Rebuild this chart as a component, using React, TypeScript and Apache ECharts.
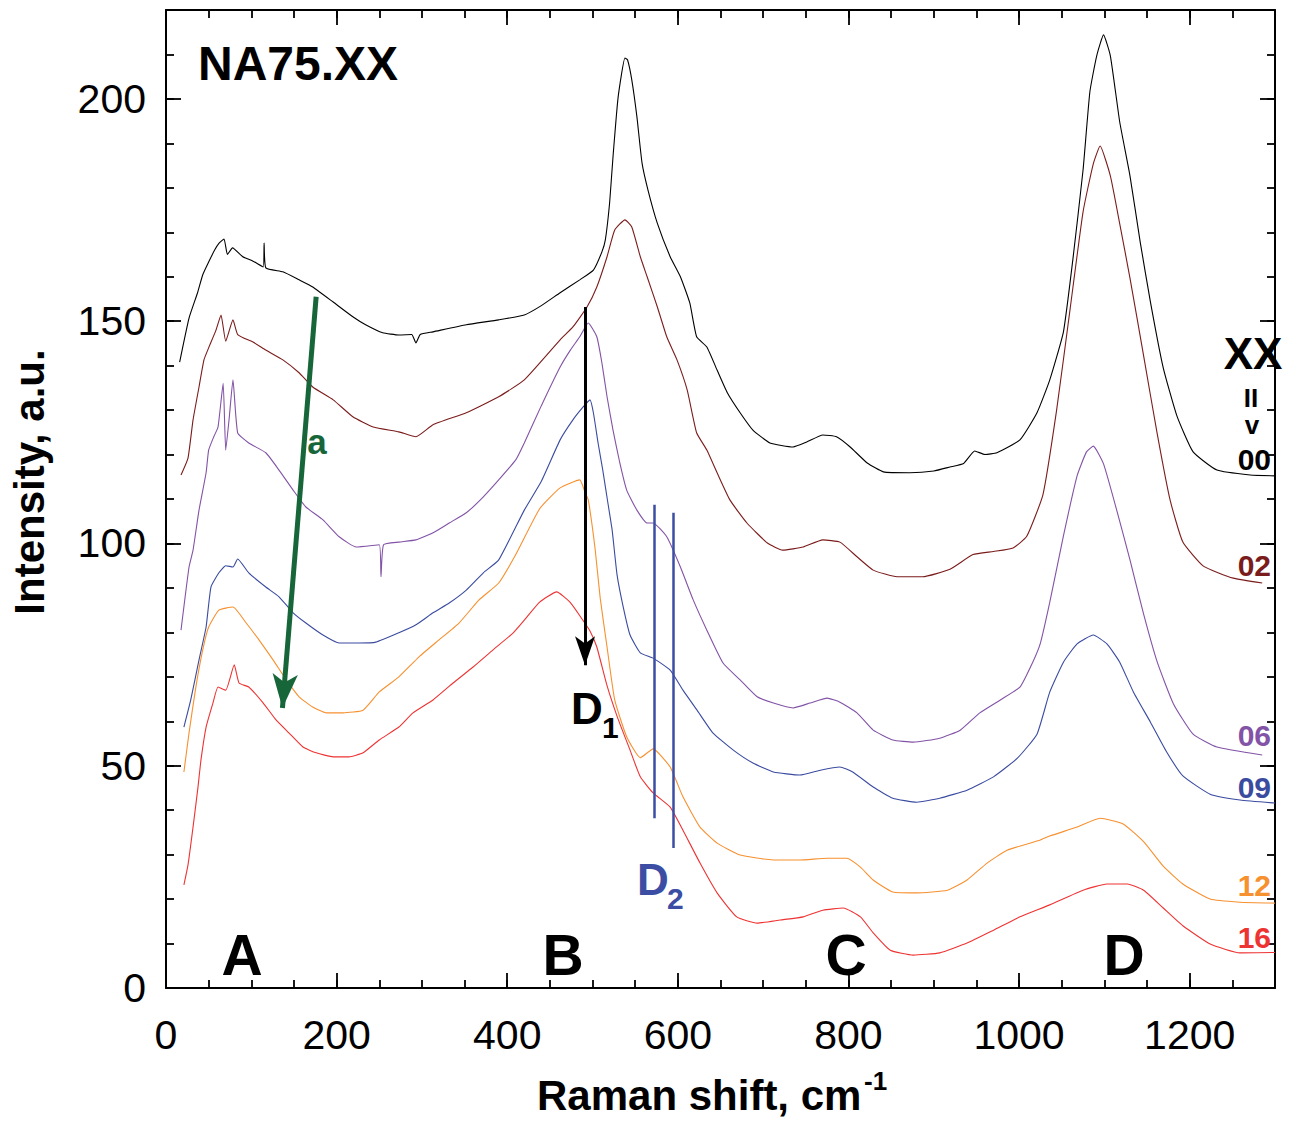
import React, { useEffect, useRef } from "react";
import * as echarts from "echarts";

// ---- data: [Raman shift (cm-1), intensity (a.u.)] ----
const s00: number[][] = [[16,140.8],[27,150.7],[37,156.4],[43,160.4],[50,163.3],[57,166],[62,167.5],[68,168.5],[72,165],[78,166.5],[90,164.5],[102,163.5],[114,162.2],[115,167.6],[117,162],[137,161.1],[156,159.3],[172,157.7],[196,154.3],[219,151],[234,149.2],[254,147.4],[273,146.9],[288,147],[293,145.1],[298,147],[313,147.6],[352,149.2],[390,150.3],[420,151.4],[440,153.5],[462,156.4],[485,159.3],[501,161.5],[511,165.6],[515,168.3],[520,176.6],[524,187],[530,200.4],[538,209.2],[541,208.8],[546,204.3],[552,196],[558,185.6],[565,179.5],[576,172],[591,164.5],[603,160],[614,154.1],[622,146.5],[634,144.2],[646,139],[658,133.9],[673,129.4],[688,125.5],[708,122.6],[735,121.7],[751,122.8],[770,124.4],[786,124],[802,121.7],[822,118.1],[841,116.1],[872,115.9],[900,116.3],[919,117.2],[935,118],[948,120.8],[960,120],[974,120.4],[1001,123.3],[1021,129.4],[1036,136.8],[1052,147.6],[1063,163.8],[1075,184],[1083,201.6],[1091,209.7],[1099,214.4],[1107,209.7],[1118,194.8],[1130,182.7],[1142,167.8],[1154,154.3],[1169,139.5],[1185,128.7],[1204,120.6],[1232,116.5],[1271,115.4],[1300,115.2]];
const s02: number[][] = [[17.6,115.4],[25.8,119.2],[31.7,127.8],[38.7,135.2],[44.5,141.3],[50,144],[58.6,148],[64.5,151.4],[70,145.5],[78.5,150.3],[84,147],[102,145.3],[117,143.5],[137,141.3],[156,138.4],[172,135.2],[196,132.3],[219,128.5],[243,126.2],[273,125.1],[293,124],[313,126.7],[352,129.4],[390,133],[420,136.8],[462,145.8],[477,148.7],[493.5,153.2],[505,157.7],[517,164.5],[526,170.5],[538,172.8],[546,171.2],[556,164.5],[564,160],[576,153.2],[587,146.5],[599,141.3],[611,134.5],[622,124.9],[634,121],[646,115.9],[661,109.8],[681,104.6],[705,100.1],[723,98.5],[747,99.2],[770,100.8],[790,100.3],[810,97],[829,94],[857,92.5],[887,92.5],[919,94.2],[946,97.5],[970,98.2],[993,99],[1009,101.6],[1028,111],[1044,130],[1060,153],[1075,174.6],[1087,185.4],[1095,189.4],[1107,182.7],[1118,171.9],[1130,159.7],[1146,142.2],[1162,124.6],[1177,109.8],[1192,100.3],[1216,94.9],[1251,92.2],[1285,91.1]];
const s06: number[][] = [[17.6,80.5],[27,94.7],[31.7,98.5],[38.7,107.5],[47,115.9],[50,121],[56,124],[61,126.2],[67,136],[70,121],[74,128],[78.5,136.8],[84,124.9],[97,122.6],[117,120.4],[132.5,116.5],[149,112],[164,108.2],[184,105.3],[203,101.5],[223,99.2],[250,99.7],[252,92.5],[255,99.7],[273,100.3],[293,100.8],[313,102.4],[332,104.6],[352,106.9],[372,110.5],[390,114.3],[410,118.8],[420,122.6],[440,131],[462,139.7],[474,143.5],[485,146.5],[495,149.6],[505,146.5],[511,140.6],[517,133],[524,125.5],[532,118.1],[540,112],[552,107.5],[564,104.6],[571,104.6],[587,101.5],[603,94.7],[618,87.3],[634,80.5],[653,73.1],[673,69.3],[693,65.5],[712,64.1],[735,63],[755,64.1],[775,65.2],[790,64.3],[810,61.9],[829,58],[852,55.8],[876,55.3],[907,56.2],[931,58],[954,61.9],[978,64.8],[1001,67.7],[1016,73.3],[1025,77.6],[1036,86.8],[1052,101.7],[1068,115.2],[1079,120.6],[1087,121.9],[1099,117.9],[1115,107.1],[1130,96.3],[1146,84.1],[1162,73.3],[1181,63.9],[1204,57.1],[1232,54.2],[1285,52.4]];
const s09: number[][] = [[21,58.7],[29,64.8],[38.7,73.8],[47,81.2],[52.7,90.2],[62,93.4],[70,95],[78.5,94.7],[84,96.5],[97,93.4],[117,90.2],[132.5,88],[149,84.4],[164,82.1],[184,79.4],[203,77.6],[226,77.6],[246,77.8],[273,79.9],[293,81.7],[313,84.4],[332,86.6],[352,89.5],[372,93.4],[390,96.3],[420,107.5],[440,114],[462,123.3],[477,127.8],[489,130.7],[497,132.3],[501,129.4],[506.5,122.6],[512,116.5],[518,109.1],[523,103],[528.7,93],[536,85.7],[544,79.4],[556,75.4],[571,74.2],[591,71.5],[606,67],[622.5,62.5],[641,57.4],[665,53.5],[688,50.6],[712,48.6],[743,47.9],[767,49],[790,49.7],[805,48.6],[829,45.2],[852,42.7],[880,41.8],[907,42.7],[939,44.5],[970,47.5],[998,51.7],[1021,57.1],[1036,66.6],[1052,73.3],[1068,77.4],[1087,79.4],[1103,77.4],[1118,73.3],[1134,66.6],[1154,59.8],[1173,53.1],[1192,47.7],[1224,43.6],[1259,42.3],[1300,41.6]];
const s12: number[][] = [[21,48.6],[27,57.4],[35,67.7],[43,76],[50,81.2],[62,85],[78.5,85.7],[94,82.1],[109,78.3],[125.5,73.8],[141,69.3],[156,65.5],[172,63.2],[187.5,61.9],[207.5,61.9],[231,62.5],[250,66.6],[273,70],[296.6,74.5],[320,78.3],[343.5,82.1],[367,87.3],[390,91.1],[410,97.5],[438,107.8],[462,112.5],[485,114.3],[491,111.6],[495,109.8],[503,98.8],[509,87.7],[517,76.7],[526,64.8],[540,56.5],[556,51.8],[571,53.8],[591,49.7],[606,43],[626,36.2],[646,32.6],[673,29.9],[712,28.8],[743,28.8],[775,29.2],[798,29.2],[814,27.2],[829,24.3],[852,21.6],[880,21.4],[916,22],[939,24.3],[962.5,28.1],[986,31],[1025,33.3],[1036,34.2],[1068,36.2],[1095,38.2],[1122,36.9],[1146,32.9],[1169,27.4],[1192,23.4],[1224,20],[1259,19.3],[1300,19.1]];
const s16: number[][] = [[21,23.2],[25.8,27.7],[31.7,36.2],[37.5,45.2],[41,51.3],[47,58.7],[55,64.1],[61,67.7],[70,67],[80,72.7],[85.6,68.6],[97,67.7],[114,64.1],[129,60.3],[144,57.4],[160.6,54.2],[176,52.9],[196,52],[214.5,52],[231,52.9],[250,55.8],[273,58.7],[289.5,61.9],[313,64.8],[336.5,68.6],[360,72.2],[383,76],[407,79.9],[422,83.2],[438,86.8],[458,89.1],[473.6,86.8],[487.7,83],[497,80.3],[505,76.7],[517,68],[529,61],[544,53.5],[556,47.5],[571,43.9],[591,40.7],[606,35.5],[626,28.1],[646,21.4],[669,16],[693,14.6],[720,15.3],[747,16],[770,17.5],[794,18],[814,16],[829,12.4],[849,8.5],[876,7.4],[907,7.9],[939,10.1],[970,13],[1001,16],[1036,18.7],[1075,22],[1103,23.4],[1127,23.4],[1146,22],[1169,18],[1192,14],[1224,9.9],[1259,7.9],[1300,8]];

const seriesNames = ["00", "02", "06", "09", "12", "16"];
const seriesColors = ["#000000", "#7b1c1c", "#8253a6", "#3a4ba0", "#f7902f", "#ee3333"];
const seriesData = [s00, s02, s06, s09, s12, s16];

// annotation lines in data coordinates
const greenArrow = [[176, 155.5], [136.5, 63.0]];
const d1Arrow = [[491.2, 153.2], [491.2, 72.6]];
const d2Lines = [[[572.1, 108.7], [572.1, 38.2]], [[594.4, 106.9], [594.4, 31.5]]];

const xTickLabels = { min: 0, max: 1300, major: 200, minor: 50 };
const yTickLabels = { min: 0, max: 220, major: 50, minor: 10 };

const FONT = "'Liberation Sans', Arial, Helvetica, sans-serif";

export default function App() {
  const ref = useRef<HTMLDivElement>(null);
  useEffect(() => {
    if (!ref.current) return;
    const chart = echarts.init(ref.current, null, { renderer: "svg" });

    const axisLine = { show: true, onZero: false, lineStyle: { color: "#000", width: 2 } };
    const noLine = { show: false, onZero: false };
    const tickStyle = { color: "#000", width: 1.8 };
    const mkX = (position: string, interval: number, major: boolean, labels: boolean) => ({
      type: "value",
      position,
      min: xTickLabels.min,
      max: xTickLabels.max,
      interval,
      axisLine: major ? axisLine : noLine,
      axisTick: { show: true, inside: true, length: major ? 15 : 8, lineStyle: tickStyle },
      axisLabel: labels
        ? {
            show: true, fontSize: 41, color: "#000", margin: 26, showMaxLabel: false, fontFamily: FONT,
            formatter: (v: number) => String(v),
          }
        : { show: false },
      splitLine: { show: false },
    });
    const mkY = (position: string, interval: number, major: boolean, labels: boolean) => ({
      type: "value",
      position,
      min: yTickLabels.min,
      max: yTickLabels.max,
      interval,
      axisLine: major ? axisLine : noLine,
      axisTick: { show: true, inside: true, length: major ? 15 : 8, lineStyle: tickStyle },
      axisLabel: labels
        ? {
            show: true, fontSize: 41, color: "#000", margin: 20, showMaxLabel: false, fontFamily: FONT,
            formatter: (v: number) => String(v),
          }
        : { show: false },
      splitLine: { show: false },
    });

    const lines = seriesNames.map((n, i) => ({
      name: n,
      type: "line",
      data: seriesData[i],
      xAxisIndex: 0,
      yAxisIndex: 0,
      showSymbol: false,
      smooth: 0.15,
      lineStyle: { color: seriesColors[i], width: 1.1 },
      itemStyle: { color: seriesColors[i] },
      z: 2,
    }));

    const markSeries = (data: any[], color: string, width: number, endSymbol: string, endSize: number[]) => ({
      type: "line",
      data: [],
      xAxisIndex: 0,
      yAxisIndex: 0,
      silent: true,
      z: 5,
      markLine: {
        silent: true,
        animation: false,
        symbol: ["none", endSymbol],
        symbolSize: endSize,
        label: { show: false },
        emphasis: { disabled: true },
        lineStyle: { color, width, type: "solid" },
        data,
      },
    });

    const green = markSeries(
      [[{ coord: greenArrow[0] }, { coord: greenArrow[1] }]],
      "#17663a", 5, "arrow", [19, 34]
    );
    const d1 = markSeries(
      [[{ coord: d1Arrow[0] }, { coord: d1Arrow[1] }]],
      "#000000", 3, "arrow", [15, 29]
    );
    const d2 = markSeries(
      d2Lines.map((l) => [{ coord: l[0] }, { coord: l[1] }]),
      "#3b4ea3", 2.5, "none", [0, 0]
    );

    const txt = (text: string, x: number, y: number, size: number, color = "#000", align = "center", extra: any = {}) => ({
      type: "text",
      x,
      y,
      z: 10,
      silent: true,
      ...extra,
      style: {
        text,
        fill: color,
        font: `bold ${size}px ${FONT}`,
        textAlign: align,
        textVerticalAlign: "middle",
      },
    });

    chart.setOption({
      animation: false,
      textStyle: { fontFamily: FONT },
      grid: { left: 166, right: 20, top: 10, bottom: 134, containLabel: false },
      xAxis: [
        mkX("bottom", xTickLabels.major, true, true),
        mkX("top", xTickLabels.major, true, false),
        mkX("top", xTickLabels.minor, false, false), // becomes bottom (top already used)
        mkX("bottom", xTickLabels.minor, false, false), // becomes top
      ],
      yAxis: [
        mkY("left", yTickLabels.major, true, true),
        mkY("right", yTickLabels.major, true, false),
        mkY("right", yTickLabels.minor, false, false), // becomes left
        mkY("left", yTickLabels.minor, false, false), // becomes right
      ],
      series: [...lines, green, d1, d2],
      graphic: [
        txt("NA75.XX", 198, 63, 48, "#000", "left"),
        txt("A", 242, 955, 57),
        txt("B", 563, 955, 57),
        txt("C", 846, 955, 57),
        txt("D", 1124, 955, 57),
        txt("a", 317, 441, 35, "#17663a"),
        txt("D", 571, 708, 44, "#000", "left"),
        txt("1", 602, 727, 30, "#000", "left"),
        txt("D", 637, 879, 44, "#3b4ea3", "left"),
        txt("2", 667, 898, 30, "#3b4ea3", "left"),
        txt("XX", 1253, 353, 44),
        txt("II", 1251, 398, 26),
        txt("v", 1252, 425, 26),
        ...seriesNames.map((n, i) => txt(n, 1271, [459, 565, 735, 787, 885, 937][i], 30, seriesColors[i], "right")),
        txt("Intensity, a.u.", 29, 482, 42, "#000", "center", { rotation: Math.PI / 2 }),
        txt("Raman shift, cm", 537, 1095, 42, "#000", "left"),
        txt("-1", 864, 1081, 26, "#000", "left"),
      ],
    });
    return () => chart.dispose();
  }, []);
  return (
    <div
      ref={ref}
      style={{ position: "absolute", left: 0, top: 0, width: 1295, height: 1122, background: "#fff" }}
    />
  );
}
